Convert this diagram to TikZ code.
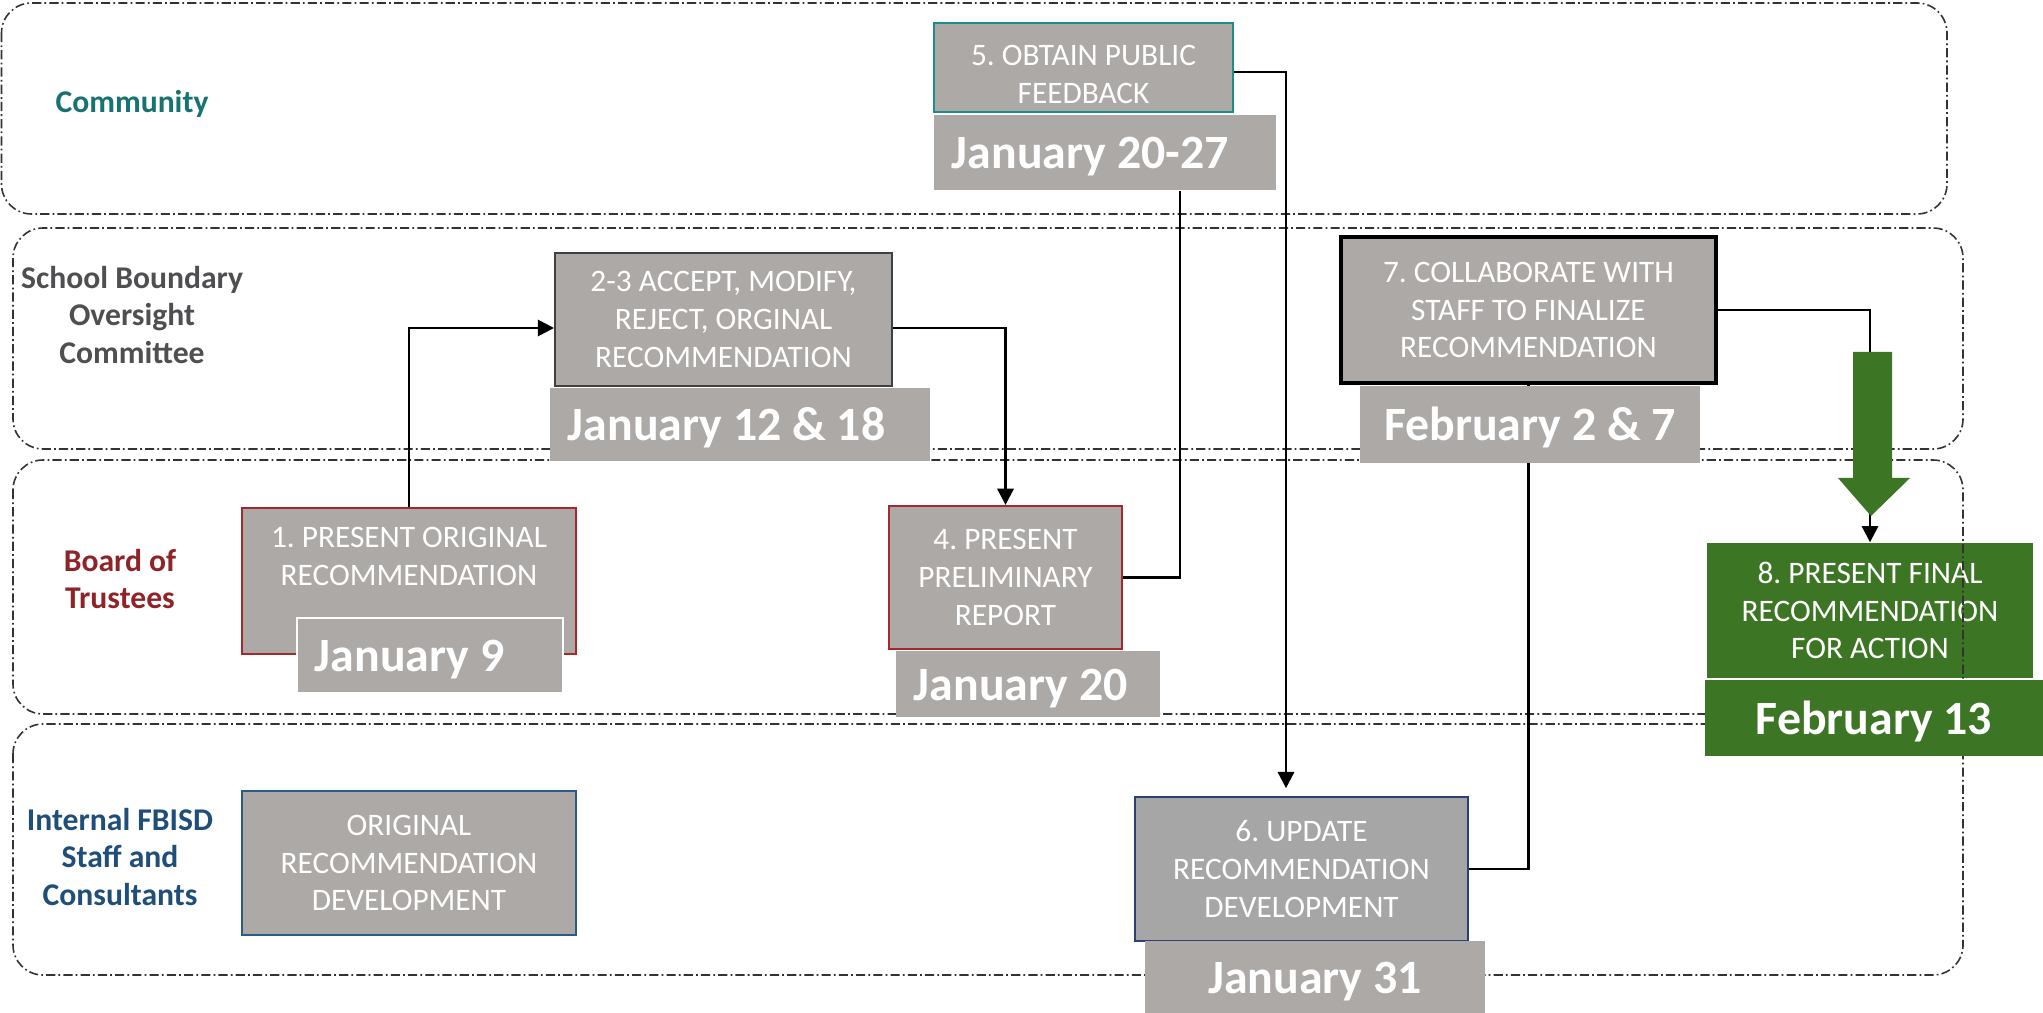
\documentclass[tikz,border=0pt]{standalone}
\usepackage{fontspec}
\setmainfont{Carlito}
\usetikzlibrary{arrows.meta}
\frenchspacing

\definecolor{boxgray}{HTML}{ADA9A7}
\definecolor{updgray}{HTML}{A6A6A6}
\definecolor{tealline}{HTML}{1E8C8C}
\definecolor{tealtxt}{HTML}{177272}
\definecolor{sbotxt}{HTML}{4F4F52}
\definecolor{boardred}{HTML}{8E2427}
\definecolor{boardline}{HTML}{A3292C}
\definecolor{staffblue}{HTML}{1F4E79}
\definecolor{staffline}{HTML}{2B5B88}
\definecolor{navyline}{HTML}{2E3F73}
\definecolor{actgreen}{HTML}{3C7524}

\pgfdeclarelayer{lanes}
\pgfdeclarelayer{links}
\pgfsetlayers{lanes,links,main}

\tikzset{
  lane/.style={draw=black!80, line width=0.45pt,
    dash pattern=on 2.6pt off 0.9pt on 0.5pt off 0.9pt, rounded corners=0.3cm},
  lanelabel/.style={font=\fontsize{9}{10.75}\selectfont\bfseries, align=center},
  stepbox/.style={rectangle, fill=boxgray, text=white,
    font=\fontsize{8.9}{10.7}\selectfont, align=center, inner sep=0pt},
  datebox/.style={rectangle, fill=boxgray, text=white, text height=0.4cm,
    font=\fontsize{13.6}{16}\selectfont\bfseries, inner sep=0pt, align=center},
  dateleft/.style={datebox, inner xsep=0.18cm, inner ysep=0pt, align=flush left},
  flow/.style={draw=black, line width=0.75pt},
  flowarrow/.style={flow, -{Triangle[length=4.6pt,width=4.6pt]}},
}

\begin{document}
\begin{tikzpicture}[x=0.01cm, y=-0.01cm]
\useasboundingbox (0,0) rectangle (2043,1013);

% swimlanes (the final step box sits under the board lane outline)
\begin{pgfonlayer}{lanes}
  \node[stepbox, fill=actgreen, minimum width=3.26cm, minimum height=1.35cm]
    (b8) at (1870,610.5) {8. PRESENT FINAL\\RECOMMENDATION\\FOR ACTION};
  \draw[lane] (1.5,3) rectangle (1947,214);
  \draw[lane] (13,228) rectangle (1963,449);
  \draw[lane] (13,460) rectangle (1963,714);
  \draw[lane] (13,724) rectangle (1963,975);
\end{pgfonlayer}

% lane titles
\node[lanelabel, text=tealtxt] (lcom) at (132,104) {Community};
\node[lanelabel, text=sbotxt] (lsbo) at (132,315) {School Boundary\\Oversight\\Committee};
\node[lanelabel, text=boardred] (lbrd) at (120,579) {Board of\\Trustees};
\node[lanelabel, text=staffblue] (lstf) at (120,857) {Internal FBISD\\Staff and\\Consultants};

% steps and their dates
\node[stepbox, draw=tealline, line width=0.4pt, minimum width=2.99cm, minimum height=0.89cm,
  text height=0.71cm, text depth=0pt] (b5) at (1083.5,67.5) {5. OBTAIN PUBLIC\\FEEDBACK};
\node[dateleft, text width=3.06cm, minimum height=0.75cm]
  (d5) at (1105,152.5) {January 20-27};

\node[stepbox, draw=black!75, line width=0.5pt, minimum width=3.37cm, minimum height=1.33cm]
  (b23) at (723.5,319.5) {2-3 ACCEPT, MODIFY,\\REJECT, ORGINAL\\RECOMMENDATION};
\node[dateleft, text width=3.44cm, minimum height=0.73cm]
  (d23) at (740,424.5) {January 12 \& 18};

\node[stepbox, draw=black, line width=0.95pt, minimum width=3.75cm, minimum height=1.46cm]
  (b7) at (1528.5,310) {7. COLLABORATE WITH\\STAFF TO FINALIZE\\RECOMMENDATION};

\node[stepbox, draw=boardline, line width=0.75pt, minimum width=3.34cm, minimum height=1.46cm]
  (b1) at (409,581) {1. PRESENT ORIGINAL\\RECOMMENDATION\\\strut};
\node[dateleft, draw=white, line width=0.75pt, text width=2.30cm, minimum height=0.75cm]
  (d1) at (430,655.5) {January 9};

\node[stepbox, draw=boardline, line width=0.6pt, minimum width=2.33cm, minimum height=1.43cm]
  (b4) at (1005.5,577.5) {4. PRESENT\\PRELIMINARY\\REPORT};
\node[dateleft, text width=2.28cm, minimum height=0.66cm]
  (d4) at (1028,684) {January 20};

\node[stepbox, draw=staffline, line width=0.75pt, minimum width=3.34cm, minimum height=1.44cm]
  (b0) at (409,863) {ORIGINAL\\RECOMMENDATION\\DEVELOPMENT};

\node[stepbox, fill=updgray, draw=navyline, line width=0.45pt, minimum width=3.33cm, minimum height=1.44cm]
  (b6) at (1301.5,869) {6. UPDATE\\RECOMMENDATION\\DEVELOPMENT};

% connectors, kept beneath the boxes
\begin{pgfonlayer}{links}
  \draw[flowarrow] (b1.north) |- ([yshift=-0.085cm]b23.west);
  \draw[flowarrow] ([yshift=-0.085cm]b23.east) -| (b4.north);
  \draw[flow] (b4.east) -| ([xshift=0.75cm]d5.south);
  \draw[flowarrow, shorten >=0.08cm] ([yshift=-0.045cm]b5.east) -| ([xshift=-0.155cm]b6.north);
  \draw[flow] (b6.east) -| (b7.south);
  \draw[flowarrow] (b7.east) -| (b8.north);
\end{pgfonlayer}

\node[datebox, minimum width=3.40cm, minimum height=0.77cm]
  (d7) at (1530,424.5) {February 2 \& 7};
\node[datebox, fill=actgreen, minimum width=3.38cm, minimum height=0.76cm]
  (d8) at (1874,718) {February 13};
\node[datebox, minimum width=3.40cm, minimum height=0.72cm]
  (d6) at (1315,977) {January 31};

% broad green arrow pointing at the final step
\fill[actgreen] (1853,352) -- (1892,352) -- (1892,478) -- (1910,478)
  -- (1871,516) -- (1838,478) -- (1853,478) -- cycle;

\end{tikzpicture}
\end{document}
